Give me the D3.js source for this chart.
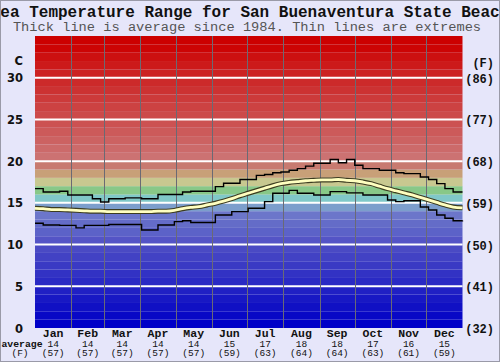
<!DOCTYPE html>
<html>
<head>
<meta charset="utf-8">
<script src="https://cdn.jsdelivr.net/npm/d3@7"></script>
<style>
  body { margin: 0; background: #e6e6fa; }
  svg { display: block; }
</style>
</head>
<body>
<div id="chart"></div>
<script>
// sample days (weekly) for the three series
const sampleDays = [...d3.range(0, 364, 7), 365];

// thick line - average since 1984 (C)
const avgTemp = [14.35, 14.3, 14.2, 14.2, 14.15, 14.1, 14.05, 14.0, 14.0, 13.95,
  13.95, 13.95, 13.95, 13.95, 13.95, 14.0, 14.0, 14.1, 14.3, 14.45,
  14.55, 14.75, 14.95, 15.2, 15.5, 15.85, 16.15, 16.45, 16.75, 17.05,
  17.3, 17.45, 17.55, 17.65, 17.7, 17.75, 17.75, 17.8, 17.7, 17.65,
  17.5, 17.3, 17.0, 16.7, 16.45, 16.2, 15.95, 15.65, 15.35, 15.05,
  14.75, 14.5, 14.4];

// thin lines - extremes (C)
const maxTemp = [16.7, 16.3, 16.3, 16.4, 15.95, 15.95, 15.95, 15.5, 15.1, 15.5,
  15.5, 15.6, 15.6, 15.5, 15.5, 16.0, 16.0, 16.0, 16.3, 16.4,
  16.4, 16.4, 16.95, 17.35, 17.35, 17.8, 17.8, 18.3, 18.4, 18.6,
  18.7, 18.9, 19.1, 19.4, 19.75, 19.75, 20.2, 19.8, 20.2, 19.5,
  19.1, 19.1, 18.9, 18.9, 18.6, 18.5, 18.5, 18.1, 17.8, 17.3,
  16.7, 16.3, 16.3];

const minTemp = [12.55, 12.35, 12.35, 12.3, 12.3, 12.0, 12.3, 12.3, 12.3, 12.4,
  12.4, 12.4, 12.4, 11.75, 11.75, 12.35, 12.35, 12.75, 12.85, 12.65,
  12.65, 12.65, 13.55, 13.55, 13.95, 13.95, 14.35, 14.35, 15.15, 16.15,
  16.15, 16.5, 16.15, 16.15, 15.95, 15.95, 16.35, 16.35, 16.2, 16.2,
  15.95, 15.95, 15.95, 15.35, 15.15, 15.25, 15.25, 14.5, 14.15, 13.55,
  13.15, 12.85, 12.9];

// months
const months = ["Jan", "Feb", "Mar", "Apr", "May", "Jun", "Jul", "Aug", "Sep", "Oct", "Nov", "Dec"];
const monthDays = [31, 28, 31, 30, 31, 30, 31, 31, 30, 31, 30, 31];
const monthAvgC = [14, 14, 14, 14, 14, 15, 17, 18, 18, 17, 16, 15];
const monthAvgF = [57, 57, 57, 57, 57, 59, 63, 64, 64, 63, 61, 59];

// axis ticks
const ticksC = [0, 5, 10, 15, 20, 25, 30];
const ticksF = [32, 41, 50, 59, 68, 77, 86];

// colour of each 1 degree band, from 0-1 C upwards
const bandColors = [
  "#0000c8", "#0808c6", "#1010c4", "#1818c4", "#2020c4",
  "#2a2ac4", "#3232c4", "#3a3ac4", "#4242c4", "#4a4ac4",
  "#5454c6", "#5c62c8", "#646cc8", "#6c76ca", "#7c9ecc",
  "#80c8c8", "#88c888", "#c8c890", "#c8a078", "#c87a70",
  "#cc7272", "#cc6a6a", "#cc6262", "#cc5a5a", "#cc5252",
  "#cc4a4a", "#cc4242", "#cc3a3a", "#cc3232", "#cc2a2a",
  "#cc2222", "#cc1a1a", "#cc1010", "#cc0404", "#cc0000"
];

const width = 500;
const height = 362;

const svg = d3.select("#chart")
  .append("svg")
  .attr("width", width)
  .attr("height", height)
  .style("font-family", "'Liberation Mono', 'Courier New', monospace");

svg.append("rect")
  .attr("x", 0).attr("y", 0)
  .attr("width", width).attr("height", height)
  .attr("fill", "#e6e6fa");

const x = d3.scaleLinear()
  .domain([0, 365])
  .range([35, 462.5]);

const y = d3.scaleLinear()
  .domain([0, 35])
  .range([328, 36]);

const yF = d3.scaleLinear()
  .domain([32, 95])
  .range([y(0), y(35)]);

// coloured bands
svg.append("g")
  .selectAll("rect")
  .data(bandColors)
  .join("rect")
  .attr("x", x(0))
  .attr("y", (d, i) => y(i + 1))
  .attr("width", x(365) - x(0))
  .attr("height", (d, i) => y(i) - y(i + 1))
  .attr("fill", d => d);

// white grid lines
svg.append("g")
  .selectAll("line")
  .data(ticksC.filter(d => d > 0))
  .join("line")
  .attr("x1", x(0))
  .attr("x2", x(365))
  .attr("y1", d => y(d))
  .attr("y2", d => y(d))
  .attr("stroke", "#fff")
  .attr("stroke-width", 2);

// month boundaries
const monthEnds = Array.from(d3.cumsum(monthDays));
const monthStarts = [0, ...monthEnds.slice(0, -1)];

svg.append("g")
  .selectAll("line")
  .data(monthEnds.slice(0, -1))
  .join("line")
  .attr("x1", d => Math.round(x(d)) + 0.5)
  .attr("x2", d => Math.round(x(d)) + 0.5)
  .attr("y1", y(35))
  .attr("y2", y(0))
  .attr("stroke", "#6a6a74")
  .attr("stroke-width", 1);

// lines
const pts = vals => vals.map((v, i) => [sampleDays[i], v]);

const stepLine = d3.line()
  .x(d => x(d[0]))
  .y(d => y(d[1]))
  .curve(d3.curveStepAfter);

[maxTemp, minTemp].forEach(vals => {
  svg.append("path")
    .datum(pts(vals))
    .attr("d", stepLine)
    .attr("fill", "none")
    .attr("stroke", "#000")
    .attr("stroke-width", 1.4);
});

const avgLine = d3.line()
  .x(d => x(d[0]))
  .y(d => y(d[1]))
  .curve(d3.curveMonotoneX);

svg.append("path")
  .datum(pts(avgTemp))
  .attr("d", avgLine)
  .attr("fill", "none")
  .attr("stroke", "#3c3c20")
  .attr("stroke-width", 5);

svg.append("path")
  .datum(pts(avgTemp))
  .attr("d", avgLine)
  .attr("fill", "none")
  .attr("stroke", "#ffffc0")
  .attr("stroke-width", 2.8);

// left axis (C)
const left = svg.append("g")
  .style("font-family", "'DejaVu Sans', Verdana, sans-serif")
  .style("font-weight", "bold")
  .style("font-size", "11.5px")
  .attr("fill", "#111")
  .attr("text-anchor", "end");

left.selectAll("text")
  .data(ticksC)
  .join("text")
  .attr("x", 23)
  .attr("y", d => y(d) + 4.5)
  .text(d => d);

left.append("text")
  .attr("x", 23)
  .attr("y", 65)
  .text("C");

// right axis (F)
const right = svg.append("g")
  .style("font-weight", "bold")
  .style("font-size", "12px")
  .attr("fill", "#111")
  .attr("text-anchor", "end");

right.selectAll("text")
  .data(ticksF)
  .join("text")
  .attr("x", 494)
  .attr("y", d => yF(d) + 5)
  .text(d => `(${d})`);

right.append("text")
  .attr("x", 494)
  .attr("y", 67)
  .text("(F)");

// month labels
const mg = svg.append("g")
  .attr("text-anchor", "middle")
  .attr("fill", "#111");

const mid = i => x((monthStarts[i] + monthEnds[i]) / 2);

mg.selectAll("text.name")
  .data(months)
  .join("text")
  .attr("class", "name")
  .attr("x", (d, i) => mid(i))
  .attr("y", 337)
  .style("font-weight", "bold")
  .style("font-size", "11.5px")
  .text(d => d);

mg.selectAll("text.avgc")
  .data(monthAvgC)
  .join("text")
  .attr("class", "avgc")
  .attr("x", (d, i) => mid(i))
  .attr("y", 346.5)
  .style("font-size", "9.5px")
  .text(d => d);

mg.selectAll("text.avgf")
  .data(monthAvgF)
  .join("text")
  .attr("class", "avgf")
  .attr("x", (d, i) => mid(i))
  .attr("y", 356)
  .style("font-size", "9.5px")
  .text(d => `(${d})`);

mg.append("text")
  .attr("x", 22)
  .attr("y", 346.5)
  .style("font-weight", "bold")
  .style("font-size", "9.8px")
  .text("average");

mg.append("text")
  .attr("x", 20)
  .attr("y", 356)
  .style("font-size", "9.5px")
  .text("(F)");

// titles
svg.append("text")
  .attr("x", width / 2)
  .attr("y", 16.5)
  .attr("text-anchor", "middle")
  .style("font-weight", "bold")
  .style("font-size", "16px")
  .attr("fill", "#111")
  .text("Sea Temperature Range for San Buenaventura State Beach");

svg.append("text")
  .attr("x", 247)
  .attr("y", 31)
  .attr("text-anchor", "middle")
  .style("font-size", "13.7px")
  .attr("fill", "#555")
  .text("Thick line is average since 1984. Thin lines are extremes");

// outer border
svg.append("rect")
  .attr("x", 0.5).attr("y", 0.5)
  .attr("width", width - 1).attr("height", height - 1)
  .attr("fill", "none")
  .attr("stroke", "#9a9aa8");
</script>
</body>
</html>
